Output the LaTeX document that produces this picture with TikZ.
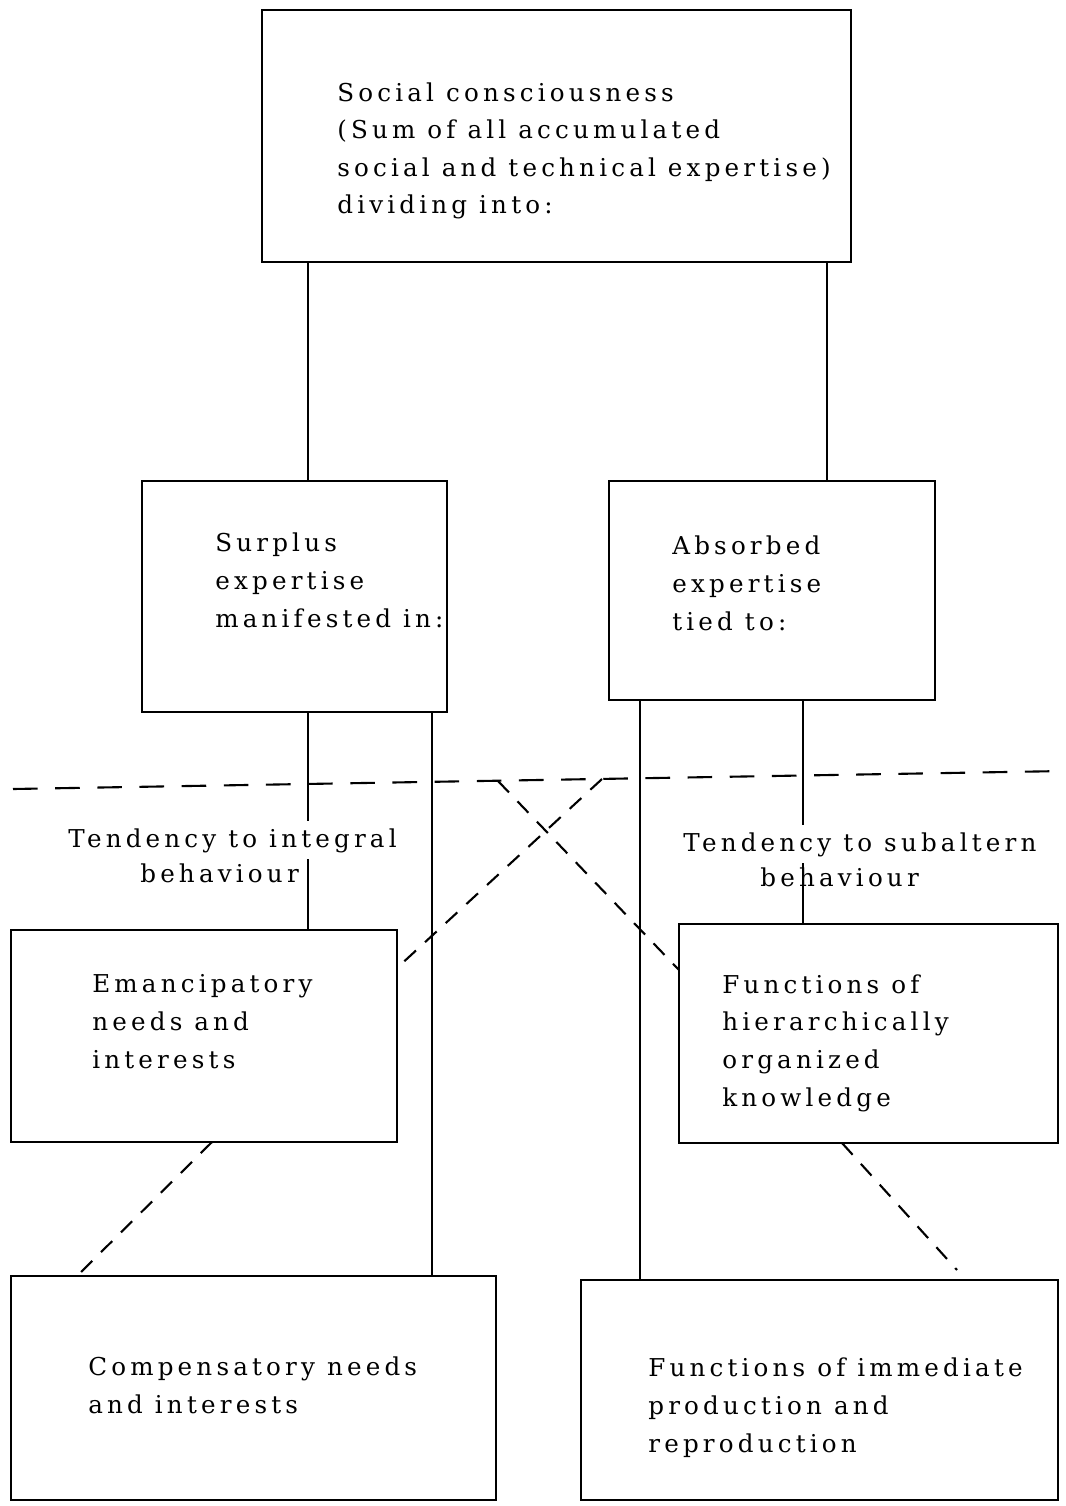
\documentclass[tikz,border=0pt]{standalone}
\usepackage{fontspec}
\setmainfont{DejaVu Serif}[LetterSpace=17]
\usetikzlibrary{fit}
\begin{document}
\begin{tikzpicture}[x=0.02cm,y=-0.02cm,
  box/.style={draw, line width=1.3pt, inner sep=0pt, outer sep=0pt},
  conn/.style={line width=1.2pt},
  dashh/.style={line width=1.2pt, dash pattern=on 14pt off 10pt},
  dashd/.style={line width=1.2pt, dash pattern=on 9pt off 7pt},
  txt/.style={anchor=base west, align=left, inner sep=0pt, font=\fontsize{14}{21.4}\selectfont},
  lbl/.style={txt, fill=white, inner ysep=4pt},
]
\useasboundingbox (0,0) rectangle (1065,1506);
% boxes
\node[box, fit={(262,10) (851,262)}] (sc) {};
\node[box, fit={(142,481) (447,712)}] (sur) {};
\node[box, fit={(609,481) (935,700)}] (abs) {};
\node[box, fit={(11,930) (397,1142)}] (ema) {};
\node[box, fit={(679,924) (1058,1143)}] (hier) {};
\node[box, fit={(11,1276) (496,1500)}] (comp) {};
\node[box, fit={(581,1280) (1058,1500)}] (imm) {};
% column coordinates
\coordinate (x308) at (308,0);
\coordinate (x827) at (827,0);
\coordinate (x432) at (432,0);
\coordinate (x640) at (640,0);
\coordinate (x803) at (803,0);
\coordinate (x212) at (212,0);
\coordinate (x77) at (77,0);
\coordinate (x842) at (842,0);
\coordinate (ye) at (0,968);
\coordinate (yh) at (0,970);
% solid connectors
\draw[conn] (sc.south -| x308) -- (sur.north -| x308);
\draw[conn] (sc.south -| x827) -- (abs.north -| x827);
\draw[conn] (sur.south -| x308) -- (ema.north -| x308);
\draw[conn] (sur.south -| x432) -- (comp.north -| x432);
\draw[conn] (abs.south -| x640) -- (imm.north -| x640);
\draw[conn] (abs.south -| x803) -- (hier.north -| x803);
% dashed lines
\coordinate (hl) at (13,789);
\coordinate (hr) at (1065,771);
\coordinate (b1) at (498,781);
\coordinate (b2) at (602,779);
\coordinate (dend) at (957,1270);
\draw[dashh] (hl) -- (hr);
\draw[dashd] (b1) -- (hier.west |- yh);
\draw[dashd] (b2) -- (ema.east |- ye);
\draw[dashd] (ema.south -| x212) -- (comp.north -| x77);
\draw[dashd] (hier.south -| x842) -- (dend);
% texts (anchored at the baseline of the last line)
\node[txt] (tsc) at (337,214) {Social consciousness\\(Sum of all accumulated\\social and technical expertise)\\dividing into:};
\node[txt] (tsur) at (215,627) {Surplus\\expertise\\manifested in:};
\node[txt] (tabs) at (672,630) {Absorbed\\expertise\\tied to:};
\node[lbl] (ti1) at (68,847) {Tendency to integral};
\node[txt] (ti2) at (140,882) {behaviour};
\node[lbl] (ts1) at (683,851) {Tendency to subaltern};
\node[txt] (ts2) at (760,886) {behaviour};
\node[txt] (tema) at (92,1068) {Emancipatory\\needs and\\interests};
\node[txt] (thier) at (722,1106) {Functions of\\hierarchically\\organized\\knowledge};
\node[txt] (tcomp) at (88,1413) {Compensatory needs\\and interests};
\node[txt] (timm) at (648,1452) {Functions of immediate\\production and\\reproduction};
\end{tikzpicture}
\end{document}
